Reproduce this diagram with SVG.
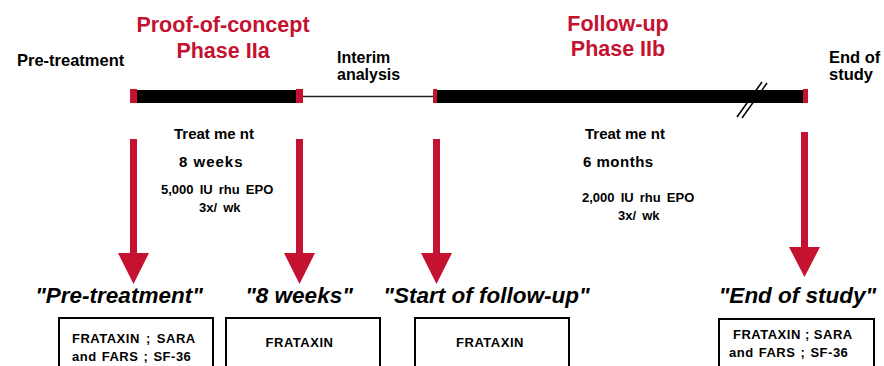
<svg xmlns="http://www.w3.org/2000/svg" width="884" height="366" viewBox="0 0 884 366">
<style>
text{font-family:"Liberation Sans",Arial,sans-serif;font-weight:bold;fill:#000}
.red{fill:#c41230}
.ph{font-size:21.5px;fill:#c41230;text-anchor:middle}
.lbl{font-size:16.5px}
.tr{font-size:15px}
.dose{font-size:13px;word-spacing:2.5px}
.q{font-size:22.5px;font-style:italic;text-anchor:middle}
.bx{font-size:13px;letter-spacing:0.5px}
.box{fill:#fff;stroke:#000;stroke-width:2}
.arrow{fill:#c41230}
</style>
<rect width="884" height="366" fill="#fff"/>
<g id="timeline">
  <rect x="137" y="90" width="159" height="13" fill="#000"/>
  <line x1="303" y1="96.5" x2="434" y2="96.5" stroke="#222" stroke-width="1.5"/>
  <rect x="437" y="90" width="366" height="13" fill="#000"/>
  <rect class="red" x="130" y="89" width="7" height="14"/>
  <rect class="red" x="296" y="89" width="7" height="14"/>
  <rect class="red" x="433" y="89" width="4" height="14"/>
  <rect class="red" x="803" y="89" width="5" height="14"/>
  <line x1="737" y1="117" x2="762" y2="82" stroke="#000" stroke-width="1.5"/>
  <line x1="742" y1="118" x2="767" y2="83" stroke="#000" stroke-width="1.5"/>
</g>
<g id="header-labels">
  <text class="lbl" x="17" y="66">Pre-treatment</text>
  <text class="ph" x="223" y="32">Proof-of-concept</text>
  <text class="ph" x="223" y="58">Phase IIa</text>
  <text class="lbl" x="337" y="63" style="font-size:16px">Interim</text>
  <text class="lbl" x="337" y="80" style="font-size:16px">analysis</text>
  <text class="ph" x="618" y="31">Follow-up</text>
  <text class="ph" x="618" y="56">Phase IIb</text>
  <text class="lbl" x="829" y="63">End of</text>
  <text class="lbl" x="829" y="80">study</text>
</g>
<g id="treatment-a">
  <text class="tr" x="174" y="139">Treat me nt</text>
  <text class="tr" x="179" y="167" style="letter-spacing:1px">8 weeks</text>
  <text class="dose" x="161" y="194">5,000 IU rhu EPO</text>
  <text class="dose" x="199" y="212">3x/ wk</text>
</g>
<g id="treatment-b">
  <text class="tr" x="585" y="139">Treat me nt</text>
  <text class="tr" x="583" y="167" style="letter-spacing:0.5px">6 months</text>
  <text class="dose" x="582" y="202">2,000 IU rhu EPO</text>
  <text class="dose" x="618" y="220">3x/ wk</text>
</g>
<g id="connectors">
  <path class="arrow" d="M130,139 H137 V253 H149 L133.5,284 L118,253 H130 Z"/>
  <path class="arrow" d="M296,139 H303 V253 H315 L299.5,284 L284,253 H296 Z"/>
  <path class="arrow" d="M433,139 H440 V253 H452 L436.5,284 L421,253 H433 Z"/>
  <path class="arrow" d="M801,132 H808 V247 H820 L804.5,277 L789,247 H801 Z"/>
</g>
<g id="node-pretreatment">
  <text class="q" x="119" y="303">"Pre-treatment"</text>
  <rect class="box" x="59" y="318" width="154" height="70"/>
  <text class="bx" x="72" y="343" style="word-spacing:2px">FRATAXIN ; SARA</text>
  <text class="bx" x="72" y="361" style="word-spacing:1px">and FARS ; SF-36</text>
</g>
<g id="node-8weeks">
  <text class="q" x="299" y="303">"8 weeks"</text>
  <rect class="box" x="226" y="318" width="154" height="70"/>
  <text class="bx" x="299.5" y="347" text-anchor="middle">FRATAXIN</text>
</g>
<g id="node-followup">
  <text class="q" x="486.5" y="303">"Start of follow-up"</text>
  <rect class="box" x="415" y="318" width="154" height="70"/>
  <text class="bx" x="490" y="347" text-anchor="middle">FRATAXIN</text>
</g>
<g id="node-end">
  <text class="q" x="797.5" y="303">"End of study"</text>
  <rect class="box" x="719" y="319" width="155" height="70"/>
  <text class="bx" x="733" y="339">FRATAXIN ; SARA</text>
  <text class="bx" x="729" y="357" style="word-spacing:1px">and FARS ; SF-36</text>
</g>
</svg>
